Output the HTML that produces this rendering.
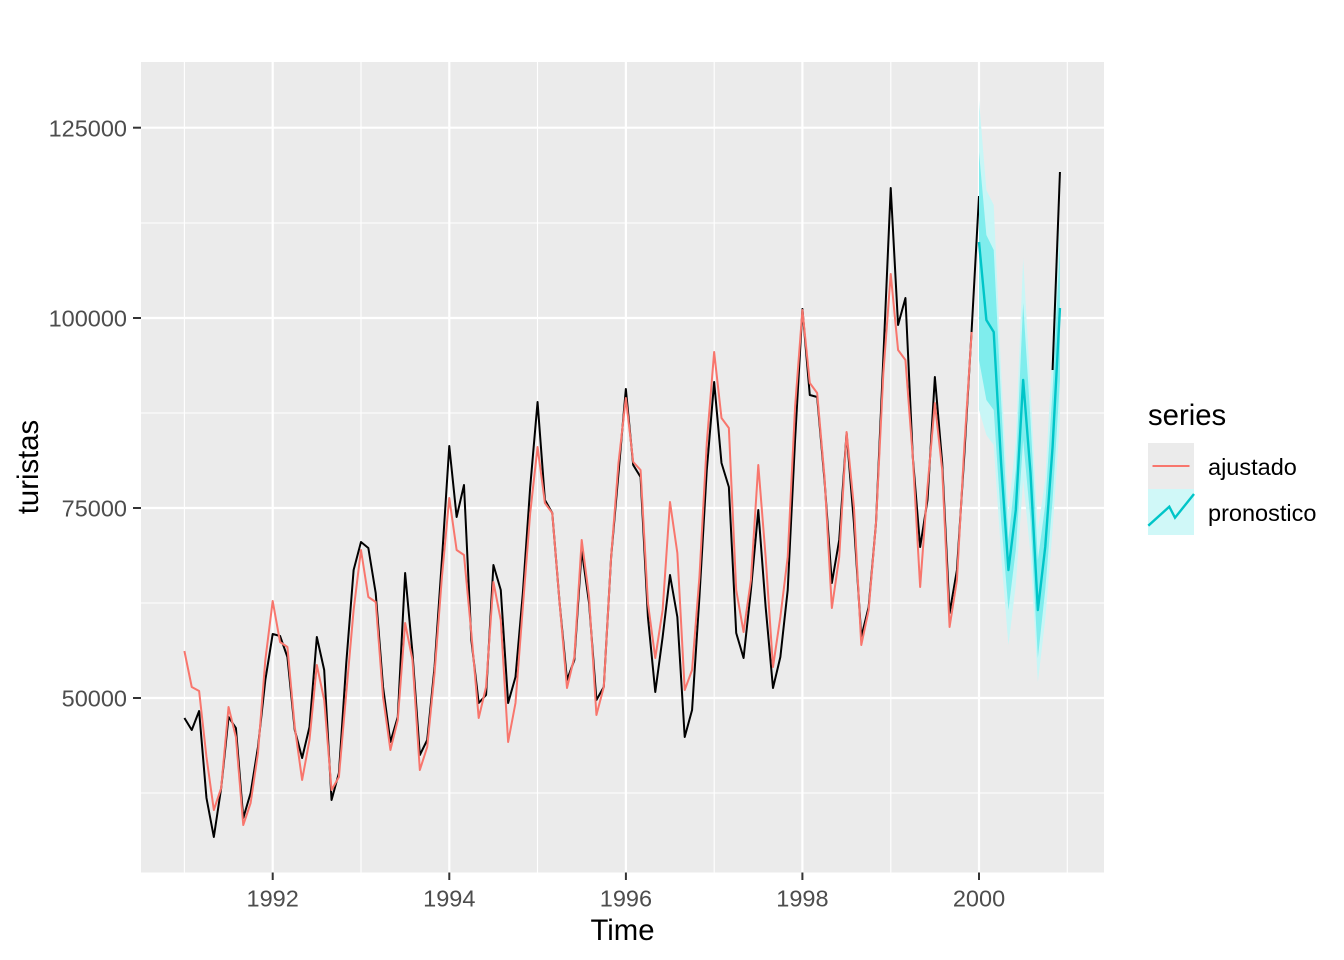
<!DOCTYPE html>
<html><head><meta charset="utf-8"><style>
html,body{margin:0;padding:0;background:#fff;}
svg{display:block;}
text{font-family:"Liberation Sans",Arial,sans-serif;}
</style></head><body>
<svg width="1344" height="960" viewBox="0 0 1344 960" xmlns="http://www.w3.org/2000/svg">
<rect x="0" y="0" width="1344" height="960" fill="#ffffff"/>
<!-- panel -->
<rect x="141" y="62" width="963" height="810.5" fill="#EBEBEB"/>
<!-- minor grid -->
<g stroke="#ffffff" stroke-width="1.1">
<line x1="141" x2="1104" y1="223" y2="223"/>
<line x1="141" x2="1104" y1="413" y2="413"/>
<line x1="141" x2="1104" y1="603" y2="603"/>
<line x1="141" x2="1104" y1="793" y2="793"/>
<line y1="62" y2="872.5" x1="184.4" x2="184.4"/>
<line y1="62" y2="872.5" x1="361" x2="361"/>
<line y1="62" y2="872.5" x1="537.5" x2="537.5"/>
<line y1="62" y2="872.5" x1="714.2" x2="714.2"/>
<line y1="62" y2="872.5" x1="890.8" x2="890.8"/>
<line y1="62" y2="872.5" x1="1067.3" x2="1067.3"/>
</g>
<!-- major grid -->
<g stroke="#ffffff" stroke-width="2.2">
<line x1="141" x2="1104" y1="127.7" y2="127.7"/>
<line x1="141" x2="1104" y1="318" y2="318"/>
<line x1="141" x2="1104" y1="508" y2="508"/>
<line x1="141" x2="1104" y1="698" y2="698"/>
<line y1="62" y2="872.5" x1="272.7" x2="272.7"/>
<line y1="62" y2="872.5" x1="449.3" x2="449.3"/>
<line y1="62" y2="872.5" x1="625.9" x2="625.9"/>
<line y1="62" y2="872.5" x1="802.4" x2="802.4"/>
<line y1="62" y2="872.5" x1="979" x2="979"/>
</g>

<g transform="translate(184.4,0) scale(7.3575,1)">
<!-- observed (black) -->
<polyline fill="none" stroke="#000000" stroke-width="2" vector-effect="non-scaling-stroke" stroke-linejoin="round" points="0,718 1,730 2,711 3,798 4,837 5,788 6,717 7,728 8,818 9,793 10,747 11,680 12,634 13,636 14,657 15,730 16,758 17,727 18,637 19,670 20,800 21,773 22,663 23,570 24,542 25,548 26,593 27,687 28,742 29,717 30,573 31,653 32,755 33,740 34,667 35,560 36,446 37,517 38,485 39,640 40,703 41,695 42,565 43,590 44,703 45,677 46,593 47,487 48,402 49,500 50,513 51,603 52,680 53,660 54,550 55,603 56,700 57,687 58,557 59,473 60,389 61,465 62,477 63,617 64,692 65,637 66,575 67,617 68,737 69,710 70,597 71,470 72,382 73,463 74,487 75,633 76,658 77,590 78,510 79,607 80,688 81,657 82,590 83,440 84,309 85,395 86,397 87,480 88,583 89,540 90,433 91,523 92,637 93,607 94,523 95,357 96,188 97,325 98,298 99,457 100,547 101,500 102,377 103,463 104,613 105,570 106,455 107,330 108,196"/>
<!-- fitted (red) -->
<polyline fill="none" stroke="#F8766D" stroke-width="2" vector-effect="non-scaling-stroke" stroke-linejoin="round" points="0,651 1,687 2,691 3,757 4,810 5,788 6,707 7,737 8,825 9,803 10,753 11,660 12,601 13,642 14,647 15,727 16,780 17,740 18,665 19,700 20,790 21,777 22,693 23,610 24,550 25,597 26,602 27,697 28,750 29,720 30,623 31,660 32,770 33,747 34,673 35,577 36,498 37,550 38,555 39,633 40,718 41,687 42,582 43,620 44,742 45,703 46,607 47,513 48,447 49,503 50,513 51,603 52,688 53,657 54,540 55,597 56,715 57,687 58,557 59,463 60,398 61,462 62,470 63,603 64,658 65,610 66,502 67,553 68,690 69,670 70,577 71,443 72,352 73,418 74,428 75,590 76,632 77,580 78,465 79,557 80,667 81,617 82,557 83,407 84,310 85,383 86,393 87,477 88,608 89,557 90,432 91,507 92,645 93,610 94,523 95,373 96,274 97,350 98,360 99,457 100,587 101,487 102,403 103,470 104,627 105,580 106,447 107,332"/>
<!-- 95% ribbon -->
<polygon fill="#C8F6F6" stroke="none" points="108,100 109,190 110,205 111,370 112,513 113,440 114,258 115,390 116,530 117,480 118,350 119,223 119,420 118,530 117,620 116,682 115,555 114,480 113,585 112,645 111,555 110,445 109,435 108,410"/>
<!-- 80% ribbon -->
<polygon fill="#7FEDED" stroke="none" points="108,152 109,235 110,250 111,400 112,540 113,470 114,303 115,420 116,560 117,505 118,390 119,247 119,380 118,500 117,590 116,658 115,520 114,440 113,550 112,610 111,520 110,410 109,400 108,360"/>
<!-- observed end segment -->
<polyline fill="none" stroke="#000000" stroke-width="2" vector-effect="non-scaling-stroke" points="118,370 119,172"/>
<!-- forecast line -->
<polyline fill="none" stroke="#00C5C8" stroke-width="2.4" vector-effect="non-scaling-stroke" stroke-linejoin="round" points="108,242 109,320 110,332 111,463 112,570 113,510 114,380 115,473 116,610 117,547 118,447 119,308"/>
</g>

<!-- axis ticks -->
<g stroke="#333333" stroke-width="2">
<line x1="133" x2="141" y1="127.7" y2="127.7"/>
<line x1="133" x2="141" y1="318" y2="318"/>
<line x1="133" x2="141" y1="508" y2="508"/>
<line x1="133" x2="141" y1="698" y2="698"/>
<line y1="872.5" y2="880" x1="272.7" x2="272.7"/>
<line y1="872.5" y2="880" x1="449.3" x2="449.3"/>
<line y1="872.5" y2="880" x1="625.9" x2="625.9"/>
<line y1="872.5" y2="880" x1="802.4" x2="802.4"/>
<line y1="872.5" y2="880" x1="979" x2="979"/>
</g>
<!-- y tick labels -->
<g fill="#4D4D4D" font-size="23.5" text-anchor="end">
<text x="127" y="136.4">125000</text>
<text x="127" y="326.7">100000</text>
<text x="127" y="516.7">75000</text>
<text x="127" y="706.7">50000</text>
</g>
<!-- x tick labels -->
<g fill="#4D4D4D" font-size="23.5" text-anchor="middle">
<text x="272.7" y="906.5">1992</text>
<text x="449.3" y="906.5">1994</text>
<text x="625.9" y="906.5">1996</text>
<text x="802.4" y="906.5">1998</text>
<text x="979" y="906.5">2000</text>
</g>
<!-- axis titles -->
<text x="622.5" y="940" font-size="29.3" text-anchor="middle" fill="#000">Time</text>
<text transform="translate(38,467) rotate(-90)" font-size="29.3" text-anchor="middle" fill="#000">turistas</text>

<!-- legend -->
<text x="1148" y="425" font-size="29.3" fill="#000">series</text>
<rect x="1148" y="443" width="46" height="46" fill="#EBEBEB"/>
<line x1="1152.5" x2="1189.5" y1="466" y2="466" stroke="#F8766D" stroke-width="2"/>
<rect x="1148" y="489" width="46" height="46" fill="#D0F8F8"/>
<polyline fill="none" stroke="#00C5C8" stroke-width="2.4" points="1148.3,525.7 1169.3,506.7 1175,517.7 1194,494"/>
<text x="1208" y="475" font-size="23.5" fill="#000">ajustado</text>
<text x="1208" y="521" font-size="23.5" fill="#000">pronostico</text>
</svg>
</body></html>
